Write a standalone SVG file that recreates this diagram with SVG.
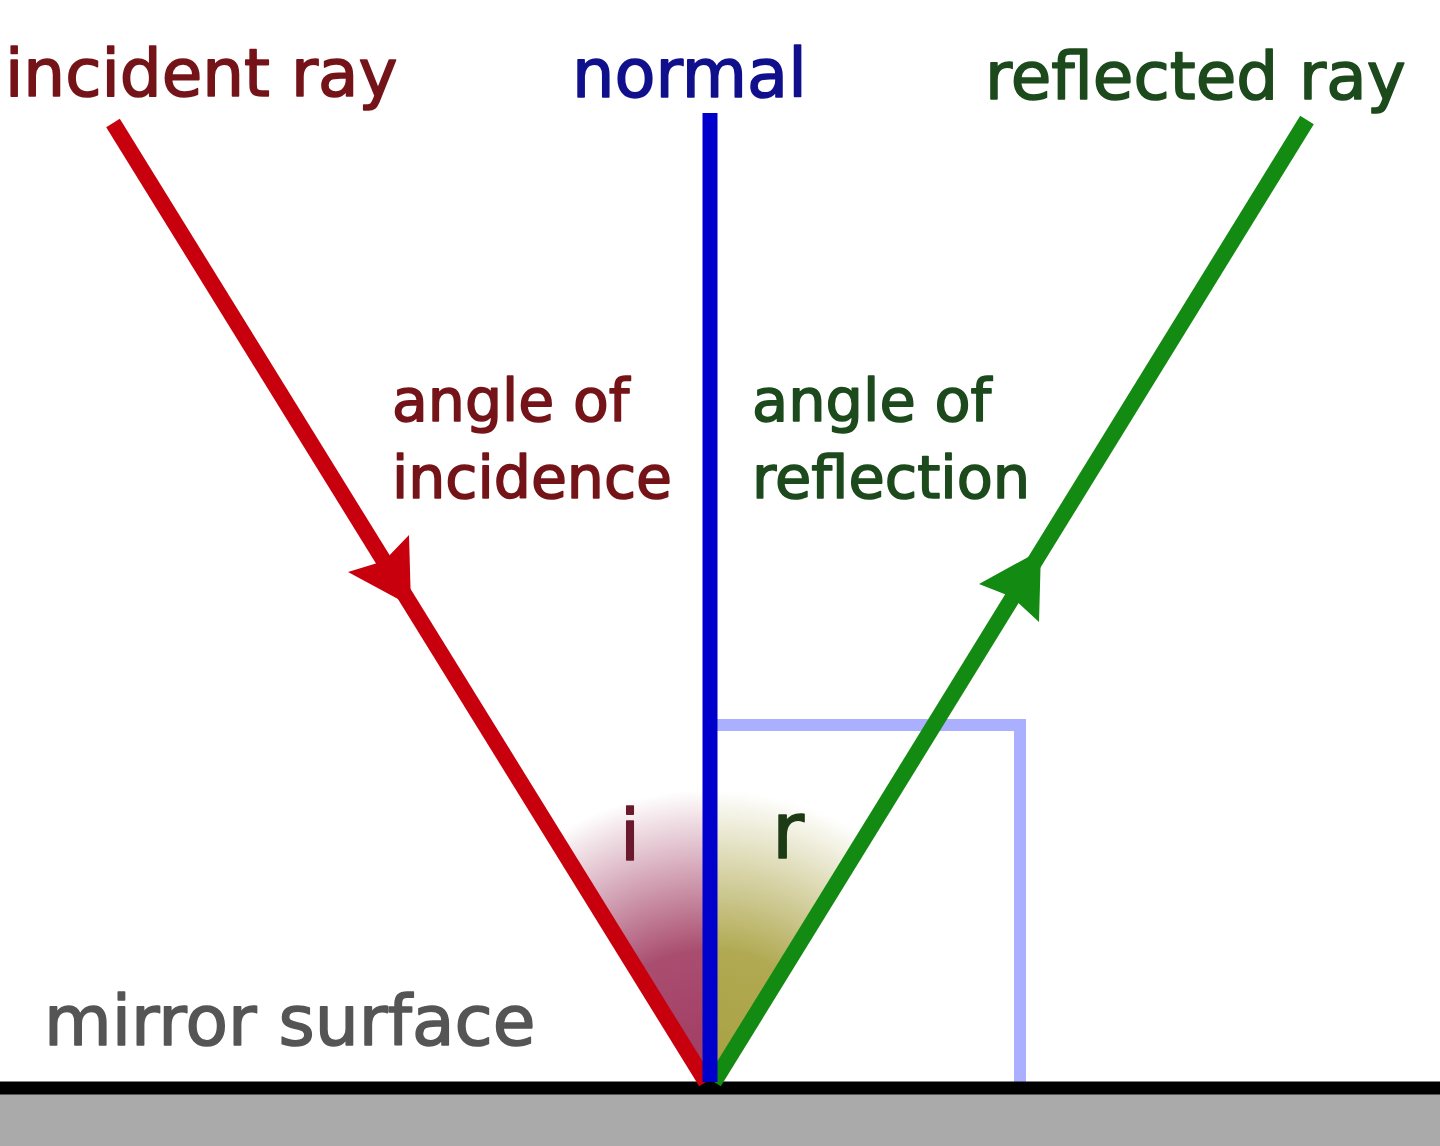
<svg xmlns="http://www.w3.org/2000/svg" width="1440" height="1146" viewBox="0 0 1440 1146">
<style>
text{font-family:"DejaVu Sans","Verdana",sans-serif;stroke-width:1.6;stroke-linejoin:round}
.red{fill:#741418;stroke:#741418}
.grn{fill:#1c4a1c;stroke:#1c4a1c}
.ray{stroke-linecap:butt;fill:none}
</style>
<defs>
<radialGradient id="gi" cx="710" cy="1080" r="290" gradientUnits="userSpaceOnUse">
<stop offset="0" stop-color="#a03a60" stop-opacity="1"/>
<stop offset="0.45" stop-color="#a03a60" stop-opacity="0.9"/>
<stop offset="1" stop-color="#a03a60" stop-opacity="0"/>
</radialGradient>
<radialGradient id="gr" cx="710" cy="1080" r="290" gradientUnits="userSpaceOnUse">
<stop offset="0" stop-color="#a8a040" stop-opacity="1"/>
<stop offset="0.45" stop-color="#a8a040" stop-opacity="0.9"/>
<stop offset="1" stop-color="#a8a040" stop-opacity="0"/>
</radialGradient>
</defs>
<rect width="1440" height="1146" fill="#ffffff"/>
<g id="angles">
<polygon points="710,1080 710,780 523,780" fill="url(#gi)"/>
<polygon points="710,1080 710,780 897,780" fill="url(#gr)"/>
</g>
<g id="right-angle">
<path d="M716,725 H1020 V1082" fill="none" stroke="#aab0ff" stroke-width="12"/>
</g>
<g id="mirror">
<rect x="0" y="1094" width="1440" height="52" fill="#aaaaaa"/>
<line x1="0" y1="1088" x2="1440" y2="1088" stroke="#000000" stroke-width="13"/>
</g>
<g id="connectors">
<line class="ray" x1="113" y1="123" x2="706" y2="1082" stroke="#c8000e" stroke-width="16"/>
<polygon points="411,606 409,535 384,561 348,572" fill="#c8000e"/>
<line class="ray" x1="1307" y1="120" x2="714" y2="1082" stroke="#138a12" stroke-width="16"/>
<polygon points="1041,550 979,584 1012,597 1039,622" fill="#138a12"/>
<line class="ray" x1="710" y1="113" x2="710" y2="1082" stroke="#0000cc" stroke-width="15"/>
</g>
<g id="label-incident">
<text x="5" y="96" font-size="66" class="red">incident ray</text>
</g>
<g id="label-normal">
<text x="572" y="97" font-size="67" fill="#10108c" stroke="#10108c">normal</text>
</g>
<g id="label-reflected">
<text x="985" y="99" font-size="66" class="grn">reflected ray</text>
</g>
<g id="label-angle-incidence">
<text font-size="58.5" class="red"><tspan x="392" y="421">angle of</tspan><tspan x="392" y="498">incidence</tspan></text>
</g>
<g id="label-angle-reflection">
<text font-size="59" class="grn"><tspan x="752" y="421">angle of</tspan><tspan x="752" y="498">reflection</tspan></text>
</g>
<g id="label-i">
<text x="620" y="860" font-size="72" fill="#6a1a2c" stroke="#6a1a2c">i</text>
</g>
<g id="label-r">
<text x="772" y="858" font-size="78" fill="#1c3a14" stroke="#1c3a14">r</text>
</g>
<g id="label-mirror">
<text x="44" y="1045" font-size="69.5" fill="#555555" stroke="#555555">mirror surface</text>
</g>
</svg>
